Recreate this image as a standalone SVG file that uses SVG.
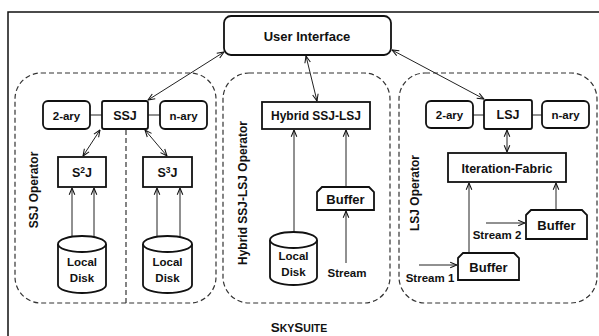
<svg xmlns="http://www.w3.org/2000/svg" width="599" height="336" viewBox="0 0 599 336">
<defs>
<marker id="ah" viewBox="0 0 10 10" refX="9.5" refY="5" markerWidth="8" markerHeight="8" orient="auto-start-reverse" markerUnits="userSpaceOnUse">
<path d="M1,1.5 L9.5,5 L1,8.5" fill="none" stroke="#111" stroke-width="1.3"/>
</marker>
<style>
text{font-family:"Liberation Sans",Arial,sans-serif;font-weight:bold;fill:#111;text-anchor:middle}
.box{fill:#fff;stroke:#111;stroke-width:1.8}
.grp{fill:none;stroke:#333;stroke-width:1.2;stroke-dasharray:5,3}
.ln{fill:none;stroke:#222;stroke-width:1}
.arr{fill:none;stroke:#222;stroke-width:1;marker-end:url(#ah)}
.darr{fill:none;stroke:#222;stroke-width:1;marker-end:url(#ah);marker-start:url(#ah)}
.t12{font-size:12.5px}
.t11{font-size:11.5px}
.rot{font-size:12px}
</style>
</defs>
<rect width="599" height="336" fill="#fff"/>
<path d="M8,336 V12 H599" fill="none" stroke="#111" stroke-width="1.5"/>

<g id="groups">
<rect class="grp" x="15" y="73" width="201" height="230" rx="26"/>
<rect class="grp" x="223" y="73" width="167" height="230" rx="26"/>
<rect class="grp" x="399" y="73" width="198" height="230" rx="26"/>
<line class="grp" x1="126" y1="130" x2="126" y2="303"/>
<text class="rot" transform="translate(38,190) rotate(-90)">SSJ Operator</text>
<text class="rot" transform="translate(247,193) rotate(-90)">Hybrid SSJ-LSJ Operator</text>
<text class="rot" transform="translate(419,193) rotate(-90)">LSJ Operator</text>
</g>

<g id="connectors">
<line class="ln" x1="90" y1="115" x2="102" y2="115"/>
<line class="ln" x1="148" y1="115" x2="160" y2="115"/>
<line class="ln" x1="473" y1="115" x2="484" y2="115"/>
<line class="ln" x1="532" y1="115" x2="542" y2="115"/>
<line class="darr" x1="224" y1="52" x2="148" y2="100"/>
<line class="darr" x1="306" y1="56" x2="317" y2="101"/>
<line class="darr" x1="392" y1="50" x2="484" y2="99"/>
<line class="darr" x1="100" y1="130" x2="83" y2="156"/>
<line class="darr" x1="145" y1="130" x2="167" y2="156"/>
<line class="arr" x1="72" y1="237" x2="72" y2="188"/>
<line class="arr" x1="94" y1="237" x2="94" y2="188"/>
<line class="arr" x1="157" y1="237" x2="157" y2="188"/>
<line class="arr" x1="180" y1="237" x2="180" y2="188"/>
<line class="arr" x1="294" y1="233" x2="294" y2="130"/>
<line class="arr" x1="346" y1="187" x2="346" y2="130"/>
<line class="arr" x1="346" y1="263" x2="346" y2="211"/>
<line class="darr" x1="507" y1="130" x2="507" y2="152"/>
<line class="arr" x1="469" y1="253" x2="469" y2="183"/>
<line class="arr" x1="556" y1="210" x2="556" y2="183"/>
<line class="arr" x1="486" y1="223" x2="525" y2="223"/>
<line class="arr" x1="419" y1="265" x2="457" y2="265"/>
</g>

<g id="user-interface">
<rect class="box" x="224" y="16" width="167" height="39" rx="7"/>
<text x="307" y="40.5" style="font-size:13px">User Interface</text>
</g>

<g id="ssj-2ary">
<rect class="box" x="43" y="101" width="47" height="28" rx="5"/>
<text class="t11" x="66.5" y="119.5">2-ary</text>
</g>
<g id="ssj">
<rect class="box" x="102" y="101" width="46" height="28" rx="2"/>
<text class="t12" x="125" y="119.5">SSJ</text>
</g>
<g id="ssj-nary">
<rect class="box" x="160" y="101" width="47" height="28" rx="5"/>
<text class="t11" x="183.5" y="119.5">n-ary</text>
</g>
<g id="s2j">
<rect class="box" x="58" y="157" width="48" height="30"/>
<text class="t12" x="82" y="176.5">S<tspan dy="-4" style="font-size:8.5px">2</tspan><tspan dy="4">J</tspan></text>
</g>
<g id="s3j">
<rect class="box" x="143" y="157" width="49" height="30"/>
<text class="t12" x="167.5" y="176.5">S<tspan dy="-4" style="font-size:8.5px">3</tspan><tspan dy="4">J</tspan></text>
</g>
<g id="disk1">
<path class="box" d="M58,244 A24,8 0 0,1 106,244 V285 A24,8 0 0,1 58,285 Z"/>
<path class="box" d="M58,244 A24,8 0 0,0 106,244" fill="none"/>
<text class="t11" x="82" y="266">Local</text>
<text class="t11" x="82" y="282">Disk</text>
</g>
<g id="disk2">
<path class="box" d="M143,244 A24.5,8 0 0,1 192,244 V285 A24.5,8 0 0,1 143,285 Z"/>
<path class="box" d="M143,244 A24.5,8 0 0,0 192,244" fill="none"/>
<text class="t11" x="167.5" y="266">Local</text>
<text class="t11" x="167.5" y="282">Disk</text>
</g>

<g id="hybrid">
<rect class="box" x="262" y="102" width="108" height="27"/>
<text x="316" y="120" style="font-size:12px">Hybrid SSJ-LSJ</text>
</g>
<g id="disk3">
<path class="box" d="M270,240 A23.5,8 0 0,1 317,240 V277 A23.5,8 0 0,1 270,277 Z"/>
<path class="box" d="M270,240 A23.5,8 0 0,0 317,240" fill="none"/>
<text class="t11" x="293.5" y="260">Local</text>
<text class="t11" x="293.5" y="276">Disk</text>
</g>
<g id="buffer-mid">
<path class="box" d="M317,192 L322,187 H369 L374,192 V210 H317 Z"/>
<text class="t12" x="345.5" y="203.5" style="font-size:13px">Buffer</text>
</g>
<g id="stream-mid">
<text class="t11" x="347" y="277">Stream</text>
</g>

<g id="lsj-2ary">
<rect class="box" x="426" y="101" width="47" height="27" rx="5"/>
<text class="t11" x="449.5" y="119">2-ary</text>
</g>
<g id="lsj">
<rect class="box" x="484" y="100" width="48" height="29" rx="2"/>
<text class="t12" x="508" y="119">LSJ</text>
</g>
<g id="lsj-nary">
<rect class="box" x="542" y="101" width="47" height="27" rx="5"/>
<text class="t11" x="565.5" y="119">n-ary</text>
</g>
<g id="iteration-fabric">
<rect class="box" x="448" y="153" width="118" height="29"/>
<text x="507" y="172.5" style="font-size:12.5px">Iteration-Fabric</text>
</g>
<g id="buffer2">
<path class="box" d="M526,215 L531,210 H582 L587,215 V239 H526 Z"/>
<text x="556.5" y="229.5" style="font-size:13px">Buffer</text>
</g>
<g id="buffer1">
<path class="box" d="M458,258 L463,253 H514 L519,258 V280 H458 Z"/>
<text x="488.5" y="271.5" style="font-size:13px">Buffer</text>
</g>
<g id="stream-labels">
<text class="t11" x="497" y="239">Stream 2</text>
<text class="t11" x="430" y="282">Stream 1</text>
</g>

<g id="title">
<text x="299" y="332" style="font-size:13.5px">S<tspan style="font-size:10.5px">KY</tspan>S<tspan style="font-size:10.5px">UITE</tspan></text>
</g>
</svg>
